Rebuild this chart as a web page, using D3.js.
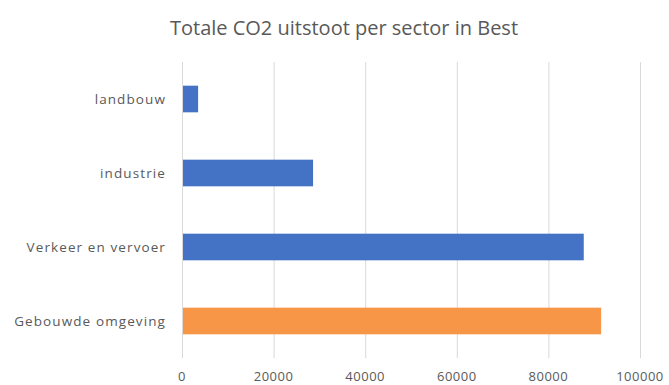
<!DOCTYPE html>
<html>
<head>
<meta charset="utf-8">
<script src="https://cdn.jsdelivr.net/npm/d3@7"></script>
<style>
  body { margin: 0; background: #fff; }
  text { font-family: "Open Sans", "Liberation Sans", sans-serif; fill: #595959; }
</style>
</head>
<body>
<div id="chart"></div>
<script>
  const categories = ['landbouw', 'industrie', 'Verkeer en vervoer', 'Gebouwde omgeving'];
  const values = [3300, 28400, 87500, 91300];
  const barColors = ['#4472C4', '#4472C4', '#4472C4', '#F79646'];
  const tickValues = [0, 20000, 40000, 60000, 80000, 100000];
  const title = 'Totale CO2 uitstoot per sector in Best';

  const w = 669;
  const h = 385;
  const plotLeft = 182, plotRight = 640, plotTop = 62, plotBottom = 358;

  const x = d3.scaleLinear().domain([0, 100000]).range([plotLeft, plotRight]);
  const y = d3.scaleBand().domain(categories).range([plotTop, plotBottom]).paddingInner(0.64).paddingOuter(0.32);

  const svg = d3.select('#chart').append('svg')
      .attr('width', w)
      .attr('height', h);

  svg.append('text')
      .attr('x', 344)
      .attr('y', 35)
      .attr('text-anchor', 'middle')
      .style('font-size', '20px')
      .text(title);

  // grid lines
  svg.append('g').selectAll('line')
    .data(tickValues)
    .enter().append('line')
      .attr('x1', d => x(d) + 0.5)
      .attr('x2', d => x(d) + 0.5)
      .attr('y1', plotTop)
      .attr('y2', plotBottom)
      .style('stroke', '#d9d9d9')
      .style('stroke-width', 1);

  // tick labels
  svg.append('g').selectAll('text')
    .data(tickValues)
    .enter().append('text')
      .attr('x', d => x(d))
      .attr('y', 381)
      .attr('text-anchor', 'middle')
      .style('font-size', '13px')
      .style('letter-spacing', '0.5px')
      .text(d => d);

  // bars
  svg.append('g').selectAll('rect')
    .data(values)
    .enter().append('rect')
      .attr('x', x(0) + 1)
      .attr('y', (d, i) => y(categories[i]))
      .attr('width', d => x(d) - x(0))
      .attr('height', y.bandwidth())
      .style('fill', (d, i) => barColors[i]);

  // category labels
  svg.append('g').selectAll('text')
    .data(categories)
    .enter().append('text')
      .attr('x', 166)
      .attr('y', d => y(d) + y.bandwidth() / 2)
      .attr('dy', '.35em')
      .attr('text-anchor', 'end')
      .style('font-size', '13.5px')
      .style('letter-spacing', '1.1px')
      .text(d => d);
</script>
</body>
</html>
